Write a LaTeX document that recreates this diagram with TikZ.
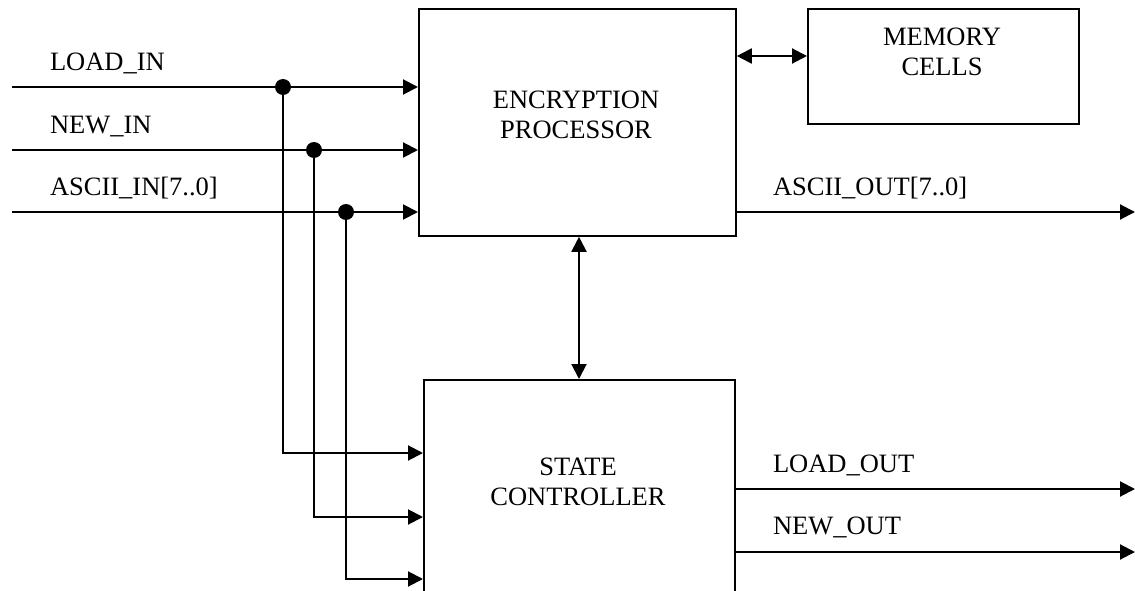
\documentclass[tikz,border=0pt]{standalone}
\usepackage{fontspec}
\setmainfont{Liberation Serif}
\usetikzlibrary{arrows.meta}
\begin{document}
\begin{tikzpicture}[x=1pt,y=-1pt,
  line width=2pt,
  box/.style={draw, line width=1.8pt, inner sep=0pt, anchor=north west},
  lbl/.style={font=\fontsize{26.5}{30}\selectfont, align=center, inner sep=0pt},
  sig/.style={font=\fontsize{26.5}{30}\selectfont, anchor=west, inner sep=0pt},
  arr/.style={-{Triangle[length=15pt,width=15pt]}},
  darr/.style={{Triangle[length=15pt,width=15pt]}-{Triangle[length=15pt,width=15pt]}},
  dot/.style={circle, fill, inner sep=0pt, minimum size=16pt}]
\useasboundingbox (0,0) rectangle (1135,591);
\clip (0,0) rectangle (1135,591);
% boxes
\node[box, minimum width=317pt, minimum height=227pt] (enc) at (418,8) {};
\node[box, minimum width=271pt, minimum height=115pt] (mem) at (807,8) {};
\node[box, minimum width=311pt, minimum height=260pt] (st) at (423,379) {};
% box texts
\node[lbl] (enct) at (576,115) {ENCRYPTION\\PROCESSOR};
\node[lbl] (memt) at (942,52) {MEMORY\\CELLS};
\node[lbl] (stt) at (578,482) {STATE\\CONTROLLER};
% coordinates
\coordinate (li) at (12,87);
\coordinate (ni) at (12,150);
\coordinate (ai) at (12,212);
\coordinate (s1) at (0,453);
\coordinate (s2) at (0,517);
\coordinate (s3) at (0,579);
\coordinate (ao) at (1135,212);
\coordinate (lo) at (1135,489);
\coordinate (no) at (1135,552);
\coordinate (m) at (0,56);
\coordinate (v) at (579,0);
% junction dots
\node[dot] (d1) at (283,87) {};
\node[dot] (d2) at (314,150) {};
\node[dot] (d3) at (346,212) {};
% inputs
\draw[arr] (li) -- (li -| enc.west);
\draw[arr] (ni) -- (ni -| enc.west);
\draw[arr] (ai) -- (ai -| enc.west);
\draw[arr] (d1.center) |- (st.west |- s1);
\draw[arr] (d2.center) |- (st.west |- s2);
\draw[arr] (d3.center) |- (st.west |- s3);
% outputs
\draw[arr] (enc.east |- ao) -- (ao);
\draw[arr] (st.east |- lo) -- (lo);
\draw[arr] (st.east |- no) -- (no);
% bidirectional
\draw[darr] (enc.east |- m) -- (mem.west |- m);
\draw[darr] (enc.south -| v) -- (st.north -| v);
% signal labels
\node[sig] (tli) at (49,63) {LOAD\_IN};
\node[sig] (tni) at (49,127) {NEW\_IN};
\node[sig] (tai) at (49,188) {ASCII\_IN[7..0]};
\node[sig] (tao) at (772,188) {ASCII\_OUT[7..0]};
\node[sig] (tlo) at (772,465) {LOAD\_OUT};
\node[sig] (tno) at (772,527) {NEW\_OUT};
\end{tikzpicture}
\end{document}
